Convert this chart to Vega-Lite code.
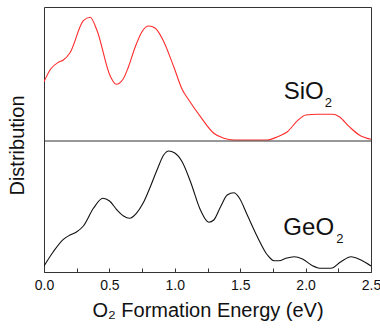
{
  "$schema": "https://vega.github.io/schema/vega-lite/v6.json",
  "width": 327,
  "height": 265,
  "autosize": {"type": "none"},
  "padding": {"left": 44, "top": 7, "right": 9, "bottom": 57},
  "background": "white",
  "config": {
    "view": {"stroke": "#333333", "strokeWidth": 1},
    "font": "Liberation Sans"
  },
  "datasets": {
    "sio2": [
      {"e": 0.0, "d": 190.3}, {"e": 0.051, "d": 203}, {"e": 0.110, "d": 209.7}, {"e": 0.148, "d": 212},
      {"e": 0.199, "d": 219.3}, {"e": 0.301, "d": 251.3}, {"e": 0.353, "d": 254.7}, {"e": 0.404, "d": 242},
      {"e": 0.506, "d": 196}, {"e": 0.552, "d": 187.7}, {"e": 0.604, "d": 192.7}, {"e": 0.646, "d": 205.3},
      {"e": 0.698, "d": 225.3}, {"e": 0.749, "d": 240.3}, {"e": 0.800, "d": 246}, {"e": 0.851, "d": 243.7},
      {"e": 0.903, "d": 233.7}, {"e": 0.992, "d": 205.3}, {"e": 1.056, "d": 182.7}, {"e": 1.107, "d": 172},
      {"e": 1.196, "d": 155.3}, {"e": 1.298, "d": 138.7}, {"e": 1.375, "d": 133.7}, {"e": 1.452, "d": 132},
      {"e": 1.708, "d": 132}, {"e": 1.785, "d": 135.3}, {"e": 1.861, "d": 140.3}, {"e": 1.938, "d": 151.3},
      {"e": 2.002, "d": 157}, {"e": 2.091, "d": 157.7}, {"e": 2.206, "d": 157.7}, {"e": 2.257, "d": 155.3},
      {"e": 2.334, "d": 145.3}, {"e": 2.410, "d": 137}, {"e": 2.5, "d": 132.7}
    ],
    "geo2": [
      {"e": 0.0, "d": 6}, {"e": 0.071, "d": 20.3}, {"e": 0.148, "d": 32.7}, {"e": 0.199, "d": 37},
      {"e": 0.251, "d": 40.3}, {"e": 0.301, "d": 46}, {"e": 0.378, "d": 63.7}, {"e": 0.450, "d": 73.7},
      {"e": 0.501, "d": 71}, {"e": 0.558, "d": 62}, {"e": 0.608, "d": 56}, {"e": 0.654, "d": 53.7},
      {"e": 0.706, "d": 58.7}, {"e": 0.757, "d": 68.7}, {"e": 0.813, "d": 85.3}, {"e": 0.864, "d": 102},
      {"e": 0.915, "d": 117}, {"e": 0.953, "d": 121}, {"e": 0.997, "d": 119.3}, {"e": 1.056, "d": 110.3},
      {"e": 1.120, "d": 90.3}, {"e": 1.196, "d": 62}, {"e": 1.260, "d": 49.7}, {"e": 1.298, "d": 52},
      {"e": 1.350, "d": 65.3}, {"e": 1.401, "d": 77}, {"e": 1.452, "d": 79.3}, {"e": 1.490, "d": 74.7},
      {"e": 1.554, "d": 57}, {"e": 1.631, "d": 35.3}, {"e": 1.708, "d": 17}, {"e": 1.758, "d": 11.3},
      {"e": 1.797, "d": 11.3}, {"e": 1.848, "d": 13.7}, {"e": 1.912, "d": 15.3}, {"e": 1.976, "d": 13},
      {"e": 2.053, "d": 6.3}, {"e": 2.117, "d": 3.7}, {"e": 2.193, "d": 3.7}, {"e": 2.270, "d": 10.3},
      {"e": 2.347, "d": 15.3}, {"e": 2.423, "d": 12}, {"e": 2.5, "d": 6}
    ],
    "one": [{}]
  },
  "encoding": {
    "x": {
      "type": "quantitative",
      "scale": {"domain": [0, 2.5], "nice": false, "zero": false},
      "axis": {
        "title": "O₂ Formation Energy (eV)",
        "titleFont": "Liberation Sans",
        "titleFontSize": 20,
        "titleFontWeight": "normal",
        "titleColor": "#111111",
        "titlePadding": 8,
        "values": [0, 0.25, 0.5, 0.75, 1, 1.25, 1.5, 1.75, 2, 2.25, 2.5],
        "labelExpr": "(round(datum.value*100) % 50 == 0) ? format(datum.value, '.1f') : ''",
        "labelFont": "Liberation Sans",
        "labelFontSize": 14,
        "labelColor": "#111111",
        "labelPadding": 10,
        "labelFlush": false,
        "tickSize": -4,
        "tickColor": "#333333",
        "domainColor": "#333333",
        "grid": false
      }
    },
    "y": {
      "type": "quantitative",
      "scale": {"domain": [0, 265], "nice": false, "zero": false},
      "axis": {
        "title": "Distribution",
        "titleFont": "Liberation Sans",
        "titleFontSize": 20,
        "titleFontWeight": "normal",
        "titleColor": "#111111",
        "titlePadding": 17,
        "titleY": 138,
        "labels": false,
        "ticks": false,
        "domain": false,
        "grid": false
      }
    }
  },
  "layer": [
    {
      "data": {"name": "sio2"},
      "mark": {"type": "line", "color": "#ff2b2b", "strokeWidth": 1.1, "interpolate": "monotone", "clip": true},
      "encoding": {"x": {"field": "e"}, "y": {"field": "d"}}
    },
    {
      "data": {"name": "geo2"},
      "mark": {"type": "line", "color": "#111111", "strokeWidth": 1.1, "interpolate": "monotone", "clip": true},
      "encoding": {"x": {"field": "e"}, "y": {"field": "d"}}
    },
    {
      "data": {"name": "one"},
      "mark": {"type": "rule", "color": "#333333", "strokeWidth": 1},
      "encoding": {"y": {"datum": 131}}
    },
    {
      "data": {"name": "one"},
      "mark": {"type": "text", "text": "SiO", "fontSize": 24, "align": "left", "baseline": "alphabetic", "color": "#111111"},
      "encoding": {"x": {"datum": 1.833}, "y": {"datum": 173.3}}
    },
    {
      "data": {"name": "one"},
      "mark": {"type": "text", "text": "2", "fontSize": 13, "align": "left", "baseline": "alphabetic", "color": "#111111"},
      "encoding": {"x": {"datum": 2.147}, "y": {"datum": 164.7}}
    },
    {
      "data": {"name": "one"},
      "mark": {"type": "text", "text": "GeO", "fontSize": 24, "align": "left", "baseline": "alphabetic", "color": "#111111"},
      "encoding": {"x": {"datum": 1.830}, "y": {"datum": 37.3}}
    },
    {
      "data": {"name": "one"},
      "mark": {"type": "text", "text": "2", "fontSize": 13, "align": "left", "baseline": "alphabetic", "color": "#111111"},
      "encoding": {"x": {"datum": 2.235}, "y": {"datum": 28.7}}
    }
  ]
}
